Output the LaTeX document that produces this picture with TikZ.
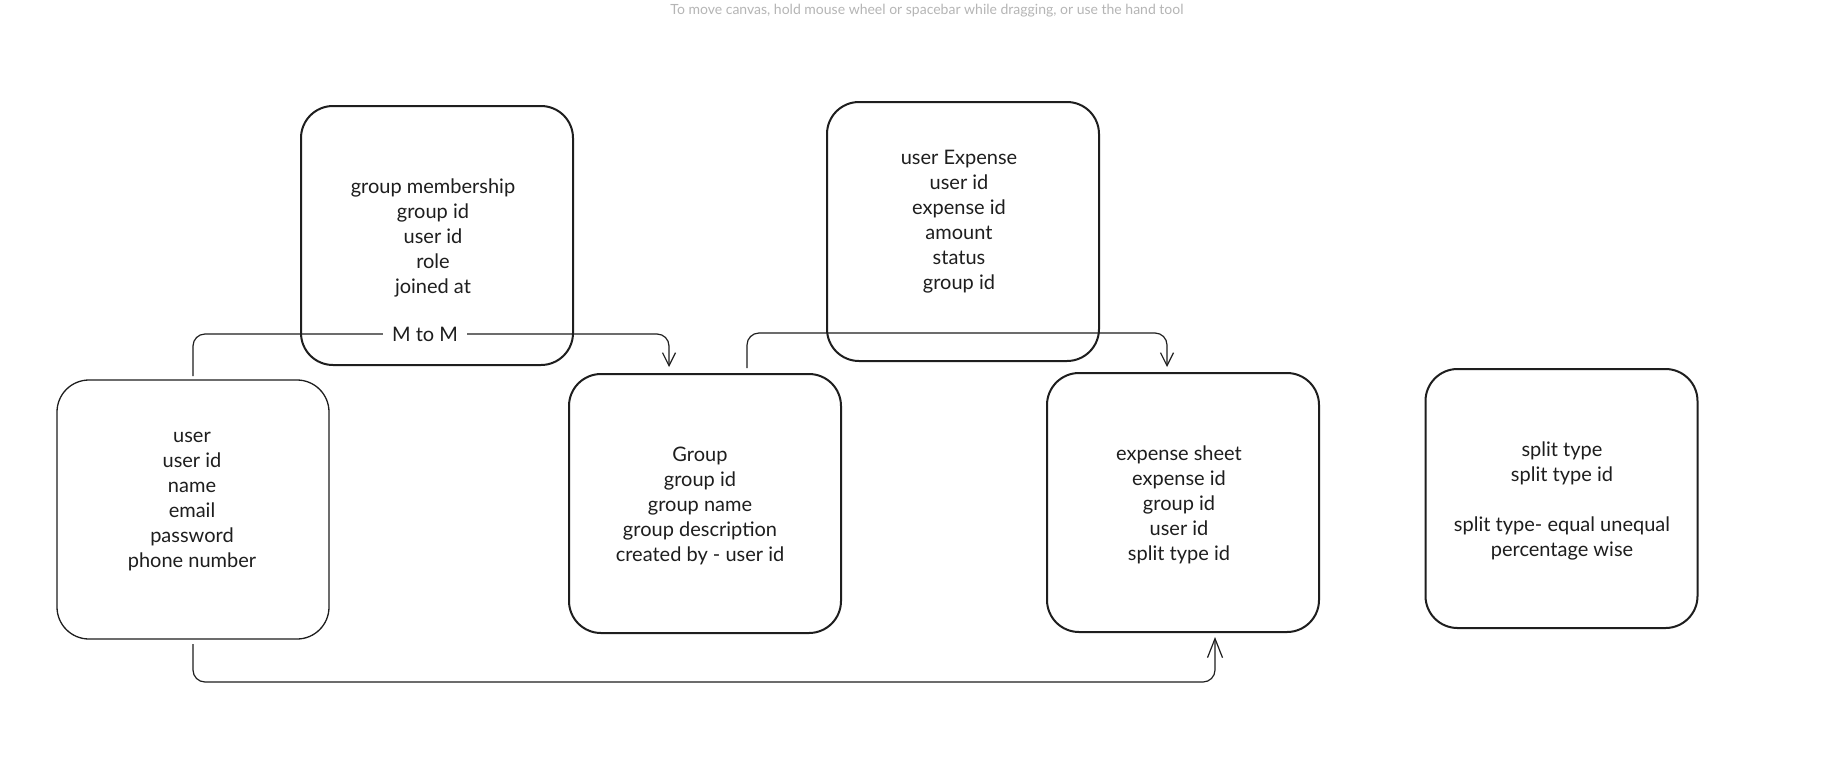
\documentclass[tikz,border=0pt]{standalone}
\usepackage{fontspec}
\setmainfont{Lato}
\usetikzlibrary{arrows.meta,calc}
\definecolor{ink}{HTML}{1E1E1E}
\definecolor{hint}{HTML}{B5B5B5}

\begin{document}
\begin{tikzpicture}[x=1pt,y=-1pt,
  entity/.style={draw=ink, line width=2pt, rounded corners=32pt,
    minimum width=272pt, minimum height=259pt, inner sep=0pt, outer sep=0pt},
  thinentity/.style={entity, line width=1.3pt},
  fields/.style={text=ink, align=center, font=\fontsize{20}{25}\selectfont, inner sep=0pt},
  conn/.style={draw=ink, line width=1.2pt, rounded corners=12pt},
  barb/.style={-{Straight Barb[length=13pt,width=13pt]}},
  bigbarb/.style={-{Straight Barb[length=19pt,width=15pt]}},
  tag/.style={fill=white, text=ink, font=\fontsize{20}{24}\selectfont,
    inner xsep=9pt, inner ysep=2pt}
]
\useasboundingbox (0,0) rectangle (1825,780);
\fill[white] (0,0) rectangle (1825,780);

% canvas hint
\node[text=hint, font=\fontsize{14}{16}\selectfont, anchor=base] (hint) at (927,14)
  {To move canvas, hold mouse wheel or spacebar while dragging, or use the hand tool};

% entity boxes
\node[entity] (gm) at (437,235.5) {};
\node[entity] (ue) at (963,231.5) {};
\node[thinentity] (user) at (193,509.5) {};
\node[entity] (grp) at (705,503.5) {};
\node[entity] (es) at (1183,502.5) {};
\node[entity] (st) at (1561.5,498.5) {};

% entity fields
\node[fields] (gmtext) at (433,237.5) {group membership\\group id\\user id\\role\\joined at};
\node[fields] (uetext) at (959,221.5) {user Expense\\user id\\expense id\\amount\\status\\group id};
\node[fields] (usertext) at (192,502) {user\\user id\\name\\email\\password\\phone number};
\node[fields] (grptext) at (700,505.5) {Group\\group id\\group name\\group description\\created by - user id};
\node[fields] (estext) at (1179,504.5) {expense sheet\\expense id\\group id\\user id\\split type id};
\node[fields] (sttext) at (1562,500.5) {split type\\split type id\\\mbox{}\\split type- equal unequal\\percentage wise};

% user -> Group (many to many)
\coordinate (c1s) at ($(user.north)+(0,-4)$);
\coordinate (c1e) at ($(grp.north west)+(100,-7)$);
\draw[conn,barb] (c1s) -- ++(0,-42) -| (c1e);
\node[tag] (mm) at (425,334) {M to M};

% Group -> expense sheet
\coordinate (c2s) at ($(grp.north west)+(178,-6)$);
\coordinate (c2e) at ($(es.north west)+(120,-6)$);
\draw[conn,barb] (c2s) -- ++(0,-35) -| (c2e);

% user -> expense sheet
\coordinate (c3s) at ($(user.south)+(0,5)$);
\coordinate (c3e) at ($(es.south west)+(168,5)$);
\draw[conn,bigbarb] (c3s) -- ++(0,38) -| (c3e);
\end{tikzpicture}
\end{document}
